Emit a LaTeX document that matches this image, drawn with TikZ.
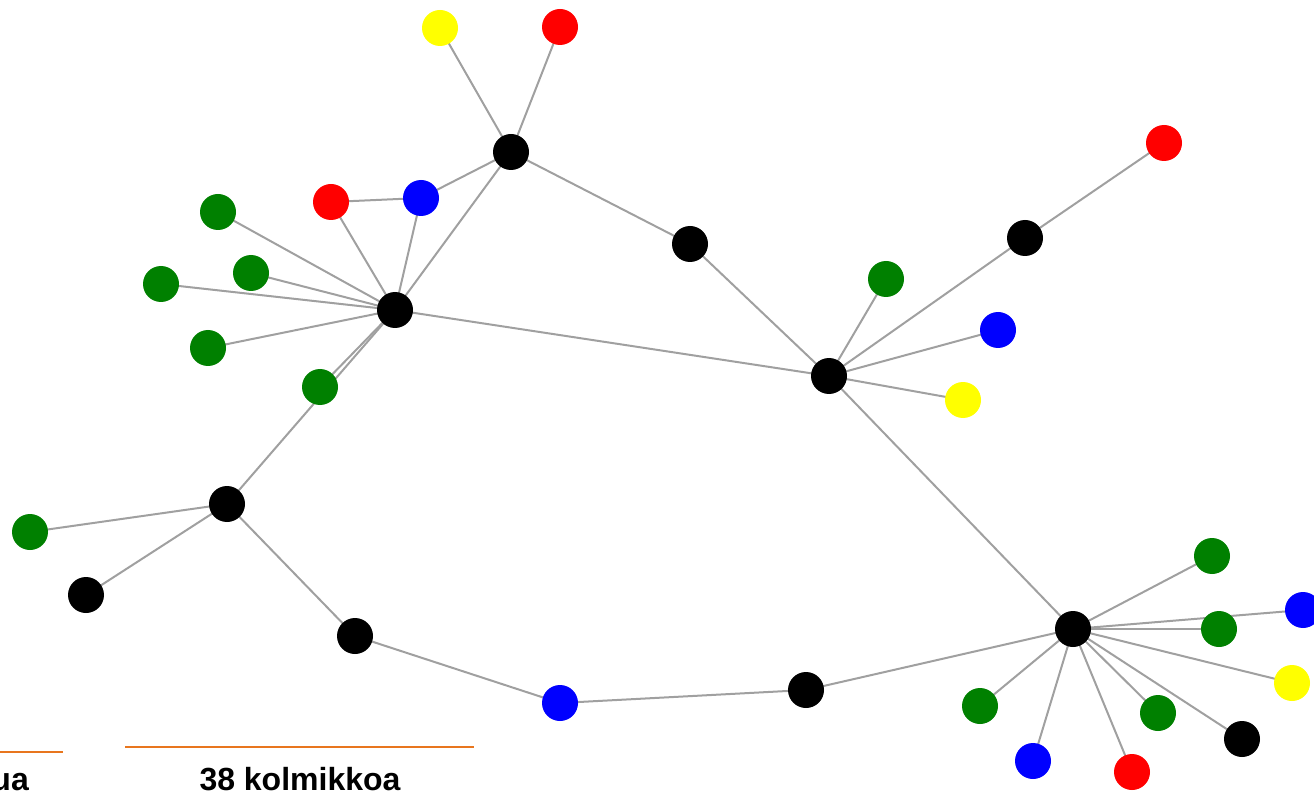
\documentclass[tikz,border=0pt]{standalone}
\usepackage{fontspec}
\setmainfont{Liberation Sans}
\usetikzlibrary{backgrounds}
\definecolor{edgegray}{HTML}{A0A0A0}
\definecolor{rulecol}{HTML}{E8761E}
\definecolor{ngreen}{HTML}{008000}
\definecolor{nred}{HTML}{FF0000}
\definecolor{nblue}{HTML}{0000FF}
\definecolor{nyellow}{HTML}{FFFF00}
\begin{document}
\begin{tikzpicture}[x=1pt,y=-1pt,
  dot/.style={circle,inner sep=0pt,minimum size=36pt},
  blk/.style={dot,fill=black},
  grn/.style={dot,fill=ngreen},
  rd/.style={dot,fill=nred},
  bl/.style={dot,fill=nblue},
  yl/.style={dot,fill=nyellow},
  link/.style={draw=edgegray,line width=2pt},
  rulebar/.style={draw=rulecol,line width=2pt},
  caption/.style={font=\bfseries\fontsize{32}{36}\selectfont,inner sep=0pt}]
\useasboundingbox (0,0) rectangle (1314,791);
\clip (0,0) rectangle (1314,791);

% vertices: name/style/x/y
\foreach \n/\s/\x/\y in {y1/yl/440/28,r1/rd/560/27,k1/blk/511/152,k2/blk/690/244,
  r2/rd/1164/143,k3/blk/1025/238,g1/grn/886/279,b1/bl/998/330,y2/yl/963/400,
  hb/blk/829/376,g2/grn/218/212,r3/rd/331/202,b2/bl/421/198,g3/grn/251/273,
  g4/grn/161/284,ha/blk/395/310,g5/grn/208/348,g6/grn/320/387,k5/blk/227/504,
  g7/grn/30/532,k6/blk/86/595,k7/blk/355/636,b3/bl/560/703,k8/blk/806/690,
  hc/blk/1073/629,g8/grn/1212/556,b4/bl/1303/610,g9/grn/1219/629,y3/yl/1292/683,
  g10/grn/980/706,g11/grn/1158/713,k9/blk/1242/739,b5/bl/1033/761,r4/rd/1132/772}
  \node[\s] (\n) at (\x,\y) {};

% edges, beneath the vertices
\begin{scope}[on background layer]
\foreach \a/\b in {y1/k1,r1/k1,k1/b2,k1/ha,k1/k2,k2/hb,hb/ha,hb/g1,hb/k3,k3/r2,
  hb/b1,hb/y2,hb/hc,r3/b2,r3/ha,b2/ha,g2/ha,g3/ha,g4/ha,g5/ha,g6/ha,k5/ha,
  k5/g7,k5/k6,k5/k7,k7/b3,b3/k8,k8/hc,hc/g8,hc/b4,hc/g9,hc/y3,hc/g10,hc/g11,
  hc/k9,hc/b5,hc/r4}
  \path[link] (\a.center) -- (\b.center);
\end{scope}

% captions with rules
\coordinate (ra1) at (0,752);
\coordinate (ra2) at (63,752);
\coordinate (rb1) at (125,747);
\coordinate (rb2) at (474,747);
\path[rulebar] (ra1) -- (ra2);
\path[rulebar] (rb1) -- (rb2);
\node[caption,anchor=base east] (capa) at (29,790) {ua};
\node[caption,anchor=base] (capb) at (300,790) {38 kolmikkoa};
\end{tikzpicture}
\end{document}
